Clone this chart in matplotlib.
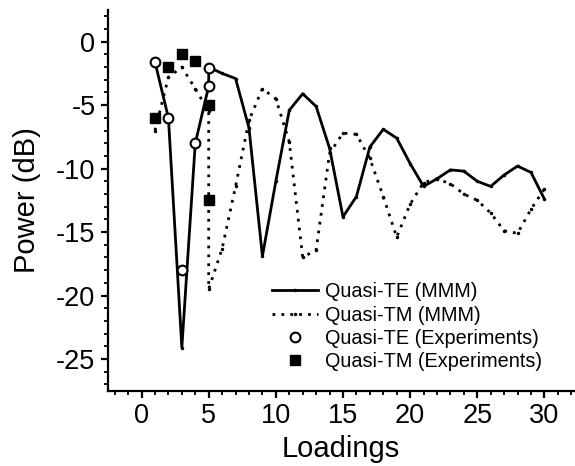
import matplotlib
matplotlib.use("Agg")
import matplotlib.pyplot as plt
from matplotlib.ticker import MultipleLocator

plt.rcParams['font.family'] = ['Liberation Sans', 'DejaVu Sans']
plt.rcParams['axes.unicode_minus'] = False

# Quasi-TE (MMM) simulation
te_mmm_x = [1, 2, 3, 4, 5, 5, 6, 7, 8, 9, 10, 11, 12, 13, 14, 15, 16, 17, 18, 19,
            20, 21, 22, 23, 24, 25, 26, 27, 28, 29, 30]
te_mmm_y = [-1.6, -6.0, -24.1, -8.0, -3.5, -2.0, -2.5, -2.9, -6.8, -16.9, -11.0,
            -5.4, -4.1, -5.1, -8.4, -13.8, -12.2, -8.3, -6.9, -7.6, -9.6, -11.4,
            -10.8, -10.1, -10.2, -11.0, -11.4, -10.5, -9.8, -10.3, -12.4]

# Quasi-TM (MMM) simulation
tm_mmm_x = [1, 2, 3, 4, 5, 5, 6, 7, 8, 9, 10, 11, 12, 13, 14, 15, 16, 17, 18, 19,
            20, 21, 22, 23, 24, 25, 26, 27, 28, 29, 30]
tm_mmm_y = [-7.0, -2.8, -2.0, -3.7, -5.5, -19.5, -16.3, -11.4, -6.2, -3.7, -4.5,
            -7.9, -17.0, -16.4, -8.8, -7.2, -7.3, -9.2, -12.2, -15.4, -12.8,
            -11.1, -10.8, -11.2, -12.0, -12.5, -13.5, -14.9, -15.1, -13.2, -11.6]

# Experiments
te_exp_x = [1, 2, 3, 4, 5, 5]
te_exp_y = [-1.6, -6.0, -18.0, -8.0, -3.5, -2.1]
tm_exp_x = [1, 2, 3, 4, 5, 5]
tm_exp_y = [-6.0, -2.0, -1.0, -1.5, -5.0, -12.5]

fig = plt.figure(figsize=(5.75, 4.66), dpi=100)
ax = fig.add_axes([0.1878, 0.1616, 0.8104, 0.817])

ax.plot(te_mmm_x, te_mmm_y, color='black', lw=2.0, marker='.', markersize=3,
        label='Quasi-TE (MMM)', zorder=2)
ax.plot(tm_mmm_x, tm_mmm_y, color='black', lw=2.0, linestyle=(0, (1, 2.2)),
        marker='.', markersize=3, label='Quasi-TM (MMM)', zorder=2)
ax.plot(te_exp_x, te_exp_y, linestyle='none', marker='o', markersize=7,
        markerfacecolor='white', markeredgecolor='black', markeredgewidth=1.5,
        label='Quasi-TE (Experiments)', zorder=4)
ax.plot(tm_exp_x, tm_exp_y, linestyle='none', marker='s', markersize=6.5,
        markerfacecolor='black', markeredgecolor='black',
        label='Quasi-TM (Experiments)', zorder=3)

ax.set_xlim(-2.5, 32.2)
ax.set_ylim(-27.5, 2.5)
ax.xaxis.set_major_locator(MultipleLocator(5))
ax.xaxis.set_minor_locator(MultipleLocator(1))
ax.yaxis.set_major_locator(MultipleLocator(5))
ax.yaxis.set_minor_locator(MultipleLocator(1))

for s in ['top', 'right']:
    ax.spines[s].set_visible(False)
for s in ['left', 'bottom']:
    ax.spines[s].set_linewidth(1.6)

ax.tick_params(which='major', direction='out', length=5, width=1.6,
               labelsize=19.5, pad=4)
ax.tick_params(which='minor', direction='out', length=3, width=1.3)

ax.set_xlabel('Loadings', fontsize=21, labelpad=4)
ax.set_ylabel('Power (dB)', fontsize=21, labelpad=11)

leg = ax.legend(loc='upper left', bbox_to_anchor=(0.352, 0.285), frameon=False,
                fontsize=14.3, handlelength=2.3, handletextpad=0.35,
                labelspacing=0.22, borderaxespad=0, borderpad=0, numpoints=1)

fig.savefig('out.png', dpi=100)
